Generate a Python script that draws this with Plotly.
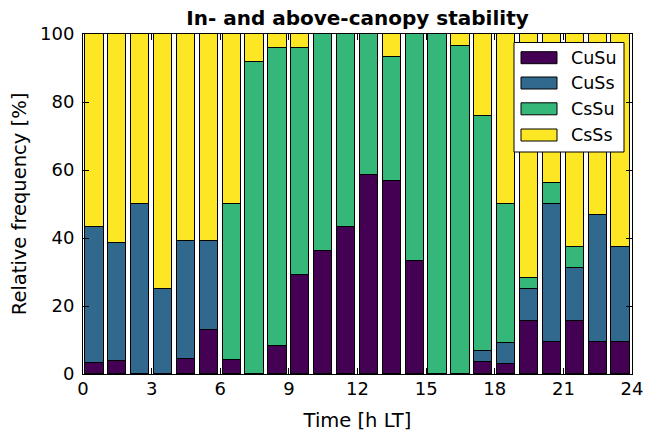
import plotly.graph_objects as go

hours = list(range(24))
categories = ["CuSu", "CuSs", "CsSu", "CsSs"]
colors = ["#440154", "#31688e", "#35b779", "#fde725"]

CuSu = [3.3, 3.9, 0, 0, 4.3, 13.0, 4.2, 0, 8.3, 29.2, 36.1, 43.3,
        58.6, 56.7, 33.3, 0, 0, 3.4, 3.0, 15.6, 9.4, 15.6, 9.4, 9.4]
CuSs = [40.0, 34.6, 50.0, 25.0, 34.8, 26.1, 0, 0, 0, 0, 0, 0,
        0, 0, 0, 0, 0, 3.4, 6.1, 9.4, 40.6, 15.6, 37.5, 28.1]
CsSu = [0, 0, 0, 0, 0, 0, 45.8, 91.7, 87.5, 66.6, 63.9, 56.7,
        41.4, 36.6, 66.7, 100.0, 96.4, 69.0, 40.9, 3.1, 6.3, 6.3, 0, 0]
CsSs = [56.7, 61.5, 50.0, 75.0, 60.9, 60.9, 50.0, 8.3, 4.2, 4.2, 0, 0,
        0, 6.7, 0, 0, 3.6, 24.2, 50.0, 71.9, 43.7, 62.5, 53.1, 62.5]
series = [CuSu, CuSs, CsSu, CsSs]

xticks = [0, 3, 6, 9, 12, 15, 18, 21, 24]
yticks = [0, 20, 40, 60, 80, 100]

W, H = 646, 432
L, R, T, B = 83, 14, 34, 58
pw, ph = W - L - R, H - T - B

def px_x(x):
    return (x - L) / pw

def px_y(y):
    return (H - B - y) / ph

fig = go.Figure()
x_centers = [h + 0.5 for h in hours]
for name, vals, col in zip(categories, series, colors):
    fig.add_trace(go.Bar(
        x=x_centers, y=vals, name=name, width=0.8,
        marker=dict(color=col, line=dict(color="black", width=1)),
        showlegend=False, hoverinfo="skip",
    ))

font = "DejaVu Sans, Liberation Sans, sans-serif"
fig.update_layout(
    barmode="stack",
    width=W, height=H,
    margin=dict(l=L, r=R, t=T, b=B, pad=0, autoexpand=False),
    paper_bgcolor="white", plot_bgcolor="white",
    font=dict(family=font, size=18, color="black"),
    title=dict(text="<b>In- and above-canopy stability</b>", x=0.5, xref="paper",
               xanchor="center", y=1, yref="paper", yanchor="bottom",
               pad=dict(b=9), font=dict(size=20, family=font, color="black")),
    xaxis=dict(range=[0, 24], tickvals=xticks, ticktext=[str(v) for v in xticks],
               ticks="inside", ticklen=6, tickwidth=1, tickcolor="black",
               showline=True, linecolor="black", linewidth=1, mirror="ticks",
               showgrid=False, zeroline=False, automargin=False,
               ticklabelstandoff=-2,
               title=dict(text="Time [h LT]", standoff=15, font=dict(size=19.5)),
               tickfont=dict(size=18)),
    yaxis=dict(range=[0, 100], tickvals=yticks, ticktext=[str(v) for v in yticks],
               ticks="inside", ticklen=6, tickwidth=1, tickcolor="black",
               showline=True, linecolor="black", linewidth=1, mirror="ticks",
               showgrid=False, zeroline=False, automargin=False,
               ticklabelstandoff=4,
               title=dict(text="Relative frequency [%]", standoff=8, font=dict(size=19.5)),
               tickfont=dict(size=18)),
    bargap=0,
)

# legend box drawn manually (matplotlib-style wide patches)
shapes = [dict(type="rect", xref="paper", yref="paper",
               x0=px_x(514), x1=px_x(624), y0=px_y(152), y1=px_y(42.5),
               fillcolor="white", line=dict(color="black", width=1), layer="above")]
annotations = []
row_centers = [57.7, 83.0, 108.8, 135.0]
for name, col, yc in zip(categories, colors, row_centers):
    shapes.append(dict(type="rect", xref="paper", yref="paper",
                       x0=px_x(521), x1=px_x(557), y0=px_y(yc + 6), y1=px_y(yc - 6),
                       fillcolor=col, line=dict(color="black", width=1), layer="above"))
    annotations.append(dict(text=name, xref="paper", yref="paper",
                            x=px_x(569), y=px_y(yc), xanchor="left", yanchor="middle",
                            showarrow=False, font=dict(size=17.5, family=font, color="black")))
fig.update_layout(shapes=shapes, annotations=annotations)

fig.write_html("out.html", config={"displayModeBar": False},
               post_script="document.body.style.margin='0';")
